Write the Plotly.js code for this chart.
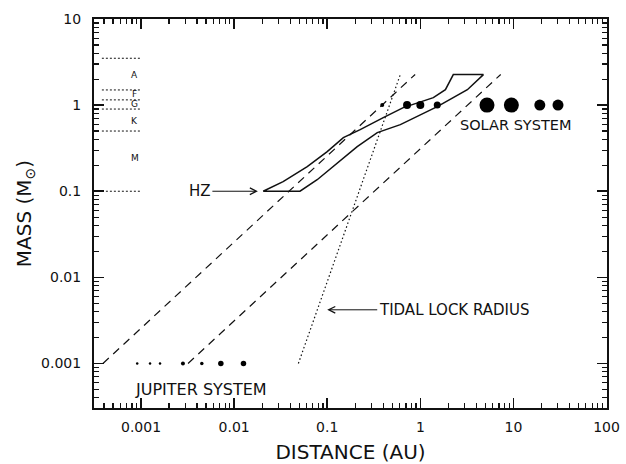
<!DOCTYPE html>
<html>
<head>
<meta charset="utf-8">
<script src="https://cdn.plot.ly/plotly-3.0.1.min.js"></script>
<style>html,body{margin:0;padding:0;background:#fff;}#chart{width:626px;height:464px;}</style>
</head>
<body>
<div id="chart"></div>
<script>
// ---- data ----
const xTickVals = [0.001, 0.01, 0.1, 1, 10, 100];
const xTickText = ['0.001', '0.01', '0.1', '1', '10', '100'];
const yTickVals = [0.001, 0.01, 0.1, 1, 10];
const yTickText = ['0.001', '0.01', '0.1', '1', '10'];

// spectral-type boundaries (solar masses) and labels
const specBounds = [3.5, 1.5, 1.15, 0.9, 0.5, 0.1];
const specSpan = [0.00038, 0.00102];
const specTypes = ['A', 'F', 'G', 'K', 'M'];
const specLabelMass = [2.26, 1.36, 1.04, 0.66, 0.24];
const specLabelDist = 0.00086;

// habitable zone outline (AU, solar masses)
const hzDist = [0.0205, 0.0336, 0.061, 0.1, 0.149, 0.226, 0.40, 0.656, 1.38, 1.86, 2.26, 4.76,
                3.2, 1.52, 0.61, 0.345, 0.21, 0.128, 0.078, 0.051, 0.0205];
const hzMass = [0.1, 0.129, 0.193, 0.288, 0.419, 0.519, 0.716, 0.935, 1.22, 1.51, 2.26, 2.26,
                1.51, 0.96, 0.593, 0.479, 0.329, 0.214, 0.136, 0.1, 0.1];

// dashed boundary lines and tidal lock radius
const innerDashDist = [0.00039, 0.88];
const outerDashDist = [0.0032, 7.3];
const tidalDist = [0.049, 0.61];
const lineMass = [0.001, 2.27];

// solar system planets
const planetNames = ['Mercury', 'Venus', 'Earth', 'Mars', 'Jupiter', 'Saturn', 'Uranus', 'Neptune'];
const planetDist = [0.39, 0.72, 1.0, 1.52, 5.2, 9.5, 19.2, 30.1];
const planetHostMass = [1, 1, 1, 1, 1, 1, 1, 1];

// Jupiter satellites
const moonNames = ['Metis', 'Amalthea', 'Thebe', 'Io', 'Europa', 'Ganymede', 'Callisto'];
const moonDist = [0.00091, 0.00125, 0.0016, 0.00282, 0.0045, 0.0072, 0.0126];
const moonHostMass = [0.001, 0.001, 0.001, 0.001, 0.001, 0.001, 0.001];

// ---- drawing ----
const planetDotSize = [4, 8, 8, 7, 15, 15, 11, 11];
const moonDotSize = [2.5, 2.5, 2.5, 4, 3.5, 5.5, 5.5];
const L = Math.log10;
const ink = '#111';
const xRange = [-3.505, 2.005];
const yRange = [-3.517, 1.0];

function minorVals(lo, hi) {
  const v = [];
  for (let e = lo; e < hi; e++) for (let k = 2; k <= 9; k++) v.push(k * Math.pow(10, e));
  return v;
}

const traces = [];
specBounds.forEach(m => traces.push({
  x: specSpan, y: [m, m], mode: 'lines', hoverinfo: 'skip',
  line: {color: ink, width: 1, dash: '2px,2px'}
}));
traces.push({x: hzDist, y: hzMass, mode: 'lines', line: {color: ink, width: 1.5}});
traces.push({x: innerDashDist, y: lineMass, mode: 'lines', line: {color: ink, width: 1.2, dash: '8px,6px'}});
traces.push({x: outerDashDist, y: lineMass, mode: 'lines', line: {color: ink, width: 1.2, dash: '8px,6px'}});
traces.push({x: tidalDist, y: lineMass, mode: 'lines', line: {color: ink, width: 1.2, dash: '1.5px,2.5px'}});
traces.push({x: planetDist, y: planetHostMass, text: planetNames, mode: 'markers',
  marker: {color: '#000', size: planetDotSize, opacity: 1, line: {width: 0}}});
traces.push({x: moonDist, y: moonHostMass, text: moonNames, mode: 'markers',
  marker: {color: '#000', size: moonDotSize, opacity: 1, line: {width: 0}}});

const annotations = [];
specTypes.forEach((t, i) => annotations.push({
  x: L(specLabelDist), y: L(specLabelMass[i]), xref: 'x', yref: 'y', text: t,
  showarrow: false, font: {size: 9, color: ink}
}));
annotations.push({x: L(0.018), y: L(0.1), xref: 'x', yref: 'y', text: 'HZ',
  showarrow: true, ax: -58, ay: 0, arrowhead: 5, arrowsize: 1.3, arrowwidth: 1, arrowcolor: ink,
  font: {size: 15, color: ink}});
annotations.push({x: L(0.1), y: L(0.0042), xref: 'x', yref: 'y', text: 'TIDAL LOCK RADIUS',
  showarrow: true, ax: 127, ay: 0, arrowhead: 5, arrowsize: 1.3, arrowwidth: 1, arrowcolor: ink,
  font: {size: 15, color: ink}});
annotations.push({x: L(10.5), y: L(0.593), xref: 'x', yref: 'y', text: 'SOLAR SYSTEM',
  showarrow: false, font: {size: 14.5, color: ink}});
annotations.push({x: L(0.00082), y: L(0.000505), xref: 'x', yref: 'y', text: 'JUPITER SYSTEM',
  xanchor: 'left', showarrow: false, font: {size: 16, color: ink}});

const axisCommon = {
  type: 'log', showgrid: false, zeroline: false,
  showline: true, linewidth: 2, linecolor: ink, mirror: 'ticks',
  ticks: 'inside', ticklen: 10, tickwidth: 1.5, tickcolor: ink,
  tickmode: 'array',
  tickfont: {size: 14, color: ink}
};

const layout = {
  width: 626, height: 464,
  margin: {l: 94, r: 19, t: 19, b: 56},
  paper_bgcolor: '#fff', plot_bgcolor: '#fff',
  showlegend: false,
  font: {family: 'DejaVu Sans', color: ink},
  xaxis: Object.assign({}, axisCommon, {
    range: xRange, tickvals: xTickVals, ticktext: xTickText,
    ticklabelstandoff: 5,
    minor: {tickmode: 'array', tickvals: minorVals(-4, 2), ticks: 'inside', ticklen: 5,
            tickwidth: 1.2, tickcolor: ink, showgrid: false},
    title: {text: 'DISTANCE (AU)', font: {size: 20, color: ink}, standoff: 12}
  }),
  yaxis: Object.assign({}, axisCommon, {
    range: yRange, tickvals: yTickVals, ticktext: yTickText,
    ticklabelstandoff: 8,
    minor: {tickmode: 'array', tickvals: minorVals(-4, 1), ticks: 'inside', ticklen: 5,
            tickwidth: 1.2, tickcolor: ink, showgrid: false},
    title: {text: 'MASS (M<sub>⊙</sub>)', font: {size: 20, color: ink}, standoff: 4}
  }),
  annotations: annotations
};

Plotly.newPlot('chart', traces, layout, {staticPlot: true, displayModeBar: false});
</script>
</body>
</html>
